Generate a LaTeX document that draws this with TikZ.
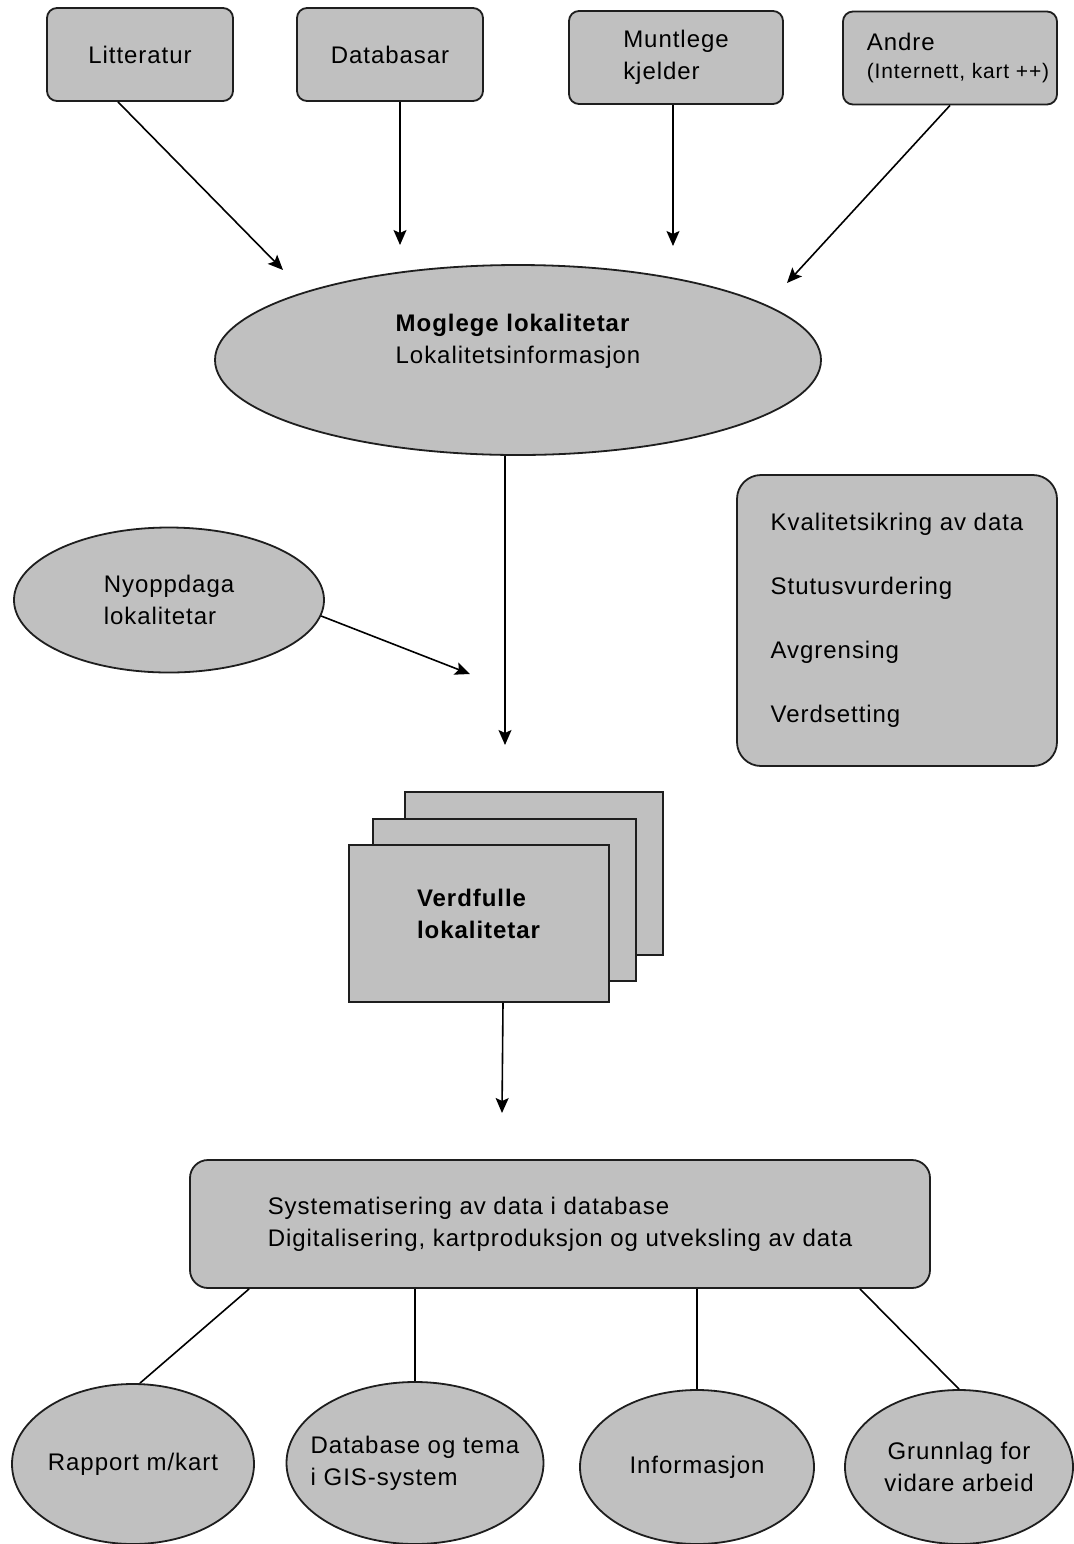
\documentclass[tikz,border=0pt]{standalone}
\usepackage{fontspec}
\setmainfont{Liberation Sans}[LetterSpace=4]
\usetikzlibrary{shapes.geometric,arrows.meta}
\definecolor{boxgray}{RGB}{192,192,192}
\definecolor{edgegray}{RGB}{30,30,30}
\begin{document}
\begin{tikzpicture}[x=0.5pt,y=-0.5pt,
  every node/.style={font=\fontsize{12}{16}\selectfont},
  base/.style={draw=edgegray,fill=boxgray,line width=0.9pt,inner sep=0pt,align=left},
  topbox/.style={base,rectangle,rounded corners=5pt,minimum width=93pt,minimum height=46.5pt},
  oval/.style={base,ellipse},
  sheet/.style={base,rectangle},
  arr/.style={line width=0.8pt,-{Stealth[length=7.5pt,width=6.5pt,inset=1.5pt]}},
  link/.style={line width=0.8pt}]
\useasboundingbox[fill=white] (0,0) rectangle (1073,1544);

% source boxes
\node[topbox] (lit) at (140,54.5) {Litteratur};
\node[topbox] (dbs) at (390,54.5) {Databasar};
\node[topbox,minimum width=107pt] (mun) at (676,57.5) {Muntlege\\kjelder};
\node[topbox,minimum width=107pt] (and) at (950,58) {\hspace*{8pt}Andre\\[-2pt]\hspace*{8pt}{\fontsize{10.5}{14}\selectfont (Internett, kart ++)}};

% central ellipse
\node[oval,minimum width=303pt,minimum height=95pt,inner xsep=-10pt] (mog) at (518,360)
  {\textbf{Moglege lokalitetar}\\Lokalitetsinformasjon\\\strut};

\coordinate (e1) at (283,270);
\coordinate (e2) at (400,245);
\coordinate (e3) at (673,246);
\coordinate (e4) at (787,283);
\draw[arr] ([xshift=-11pt]lit.south) -- (e1);
\draw[arr] ([xshift=5pt]dbs.south) -- (e2);
\draw[arr] ([xshift=-1.5pt]mun.south) -- (e3);
\draw[arr] (and.south) -- (e4);

% quality box
\node[base,rectangle,rounded corners=12pt,minimum width=160pt,minimum height=145.5pt,
  font=\fontsize{12}{32}\selectfont] (qa) at (897,620.5)
  {Kvalitetsikring av data\\Stutusvurdering\\Avgrensing\\Verdsetting};

% newly discovered
\node[oval,minimum width=155pt,minimum height=72.5pt] (ny) at (169,600) {Nyoppdaga\\lokalitetar};
\coordinate (e5) at (470,674);
\draw[arr] (ny.-6) -- (e5);

\coordinate (e6) at (505,745);
\draw[arr] ([xshift=-6.5pt]mog.south) -- (e6);

% stacked sheets
\node[sheet,minimum width=129pt,minimum height=81.5pt] (verdb) at (534,873.5) {};
\node[sheet,minimum width=131.5pt,minimum height=81pt] (verdm) at (504.5,900) {};
\node[sheet,minimum width=130pt,minimum height=78.5pt] (verd) at (479,923.5)
  {\textbf{Verdfulle}\\\textbf{lokalitetar}\\[-11pt]\strut};

\coordinate (e7) at (502,1113);
\draw[arr] ([xshift=12pt]verd.south) -- (e7);

% database box
\node[base,rectangle,rounded corners=9pt,minimum width=370pt,minimum height=64pt] (db) at (560,1224)
  {Systematisering av data i database\\Digitalisering, kartproduksjon og utveksling av data};

% outputs
\node[oval,minimum width=121pt,minimum height=80pt,align=center,inner xsep=-8pt] (rap) at (133,1464) {Rapport m/kart};
\node[oval,minimum width=128.5pt,minimum height=81pt,inner xsep=-10pt] (gis) at (415,1463) {Database og tema\\i GIS-system};
\node[oval,minimum width=117pt,minimum height=77pt,align=center,inner xsep=-8pt] (inf) at (697,1467) {Informasjon};
\node[oval,minimum width=114pt,minimum height=77pt,align=center,inner xsep=-8pt] (gru) at (959,1467) {Grunnlag for\\vidare arbeid};

\draw[link] ([xshift=30pt]db.south west) -- ([xshift=3.5pt]rap.north);
\draw[link] ([xshift=-72.5pt]db.south) -- (gis.north);
\draw[link] ([xshift=68.5pt]db.south) -- (inf.north);
\draw[link] ([xshift=150pt]db.south) -- (gru.north);
\end{tikzpicture}
\end{document}
